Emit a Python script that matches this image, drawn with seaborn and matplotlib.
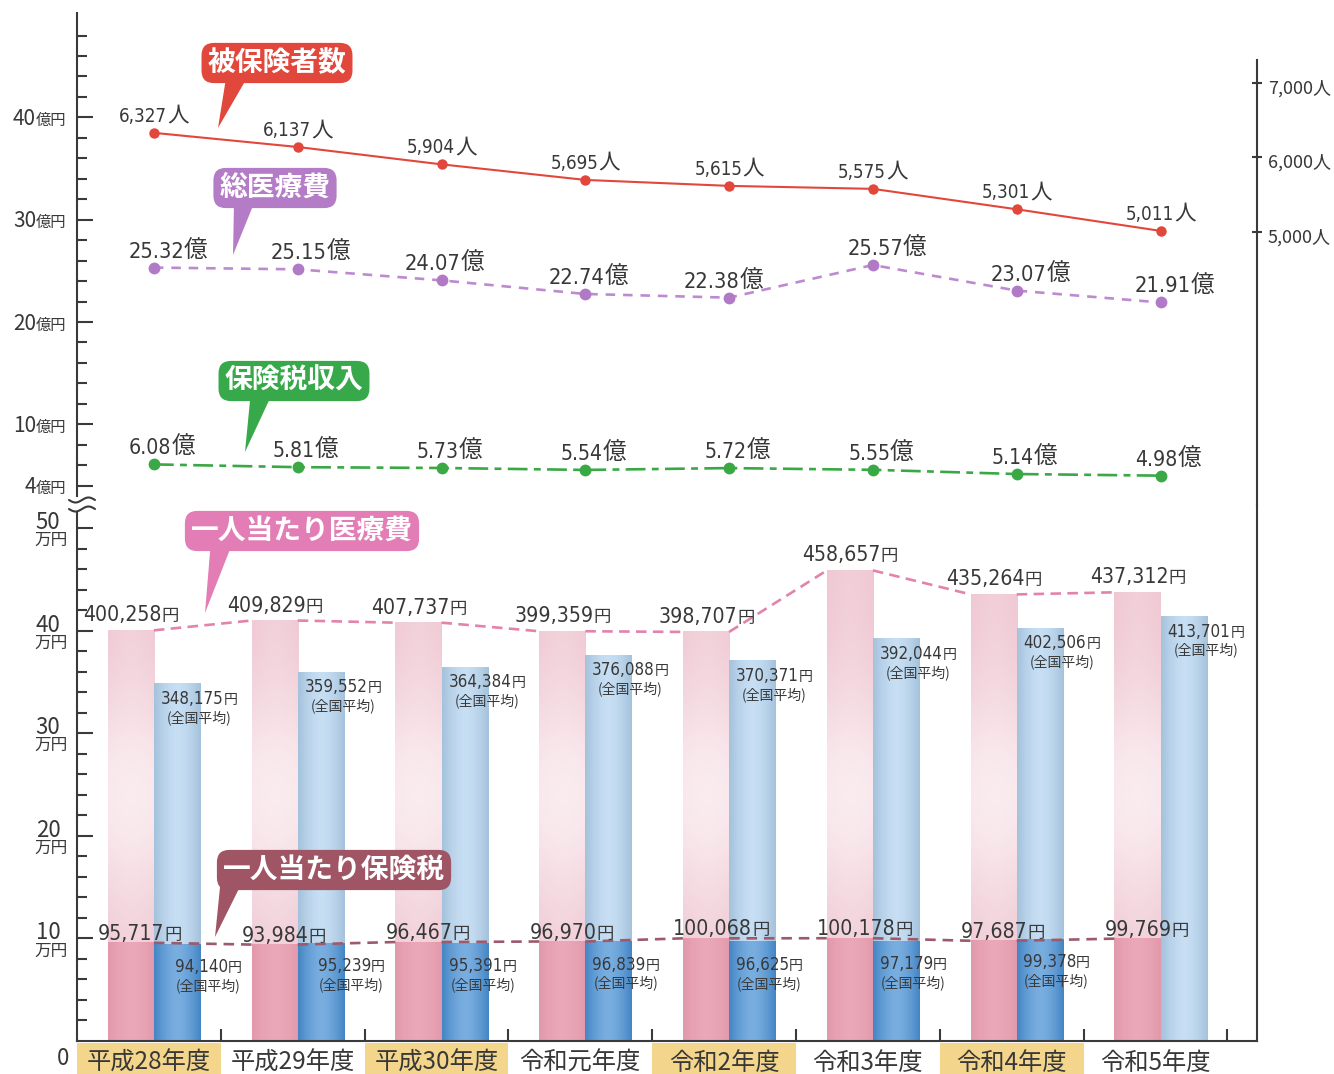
import os
import numpy as np
import pandas as pd
import matplotlib
matplotlib.use("Agg")
import matplotlib.pyplot as plt
import matplotlib.colors as mcolors
import seaborn as sns
from matplotlib import font_manager as fm
from matplotlib.font_manager import FontProperties
from matplotlib.patches import Rectangle
from matplotlib.lines import Line2D
from matplotlib.transforms import IdentityTransform

# ---------------- data ----------------
years = ['平成28年度', '平成29年度', '平成30年度', '令和元年度',
         '令和2年度', '令和3年度', '令和4年度', '令和5年度']
insured = [6327, 6137, 5904, 5695, 5615, 5575, 5301, 5011]          # 人
total_med = [25.32, 25.15, 24.07, 22.74, 22.38, 25.57, 23.07, 21.91]  # 億円
tax_rev = [6.08, 5.81, 5.73, 5.54, 5.72, 5.55, 5.14, 4.98]            # 億円
med_pp = [400258, 409829, 407737, 399359, 398707, 458657, 435264, 437312]
med_nat = [348175, 359552, 364384, 376088, 370371, 392044, 402506, 413701]
tax_pp = [95717, 93984, 96467, 96970, 100068, 100178, 97687, 99769]
tax_nat = [94140, 95239, 95391, 96839, 96625, 97179, 99378, np.nan]
highlight = [True, False, True, False, True, False, True, False]

# ---------------- style ----------------
sns.set_style("ticks")
JP = "Noto Sans CJK JP"
plt.rcParams["font.family"] = [JP, "DejaVu Sans"]

# look for a narrow font for the numerals
prefs = ["liberationsansnarrow-regular", "notosans-condensed.", "notosans-semicondensed.",
         "dejavusanscondensed.", "opensans_condensed-regular", "opensans-condensed",
         "robotocondensed-regular", "roboto_condensed-regular"]
files = [f.fname for f in fm.fontManager.ttflist]
NUMPATH = None
for p in prefs:
    hit = [f for f in files if os.path.basename(f).lower().startswith(p)]
    if hit:
        NUMPATH = hit[0]
        break

W, H = 1334, 1074
fig = plt.figure(figsize=(W / 100, H / 100), dpi=100)
renderer = fig.canvas.get_renderer()


def _numfp_raw(size):
    if NUMPATH:
        return FontProperties(fname=NUMPATH, size=size)
    return FontProperties(family=[JP], size=size)


_w = renderer.get_text_width_height_descent("0123456789", _numfp_raw(100), ismath=False)[0]
_target = 4.56 * 100 * 100 / 72
NS = float(np.clip(_target / _w, 0.87, 1.0))


def NUM(size):
    return _numfp_raw(size * NS)


def CJ(size, weight="normal"):
    return FontProperties(family=[JP, "DejaVu Sans"], size=size, weight=weight)


TXT = "#383838"
SPINE = "#3a3a3a"
PINK_L, PINK_D = "#efc7d2", "#e89eb1"
BLUE_L, BLUE_D = "#b3d3ef", "#4a91d5"
PINK_LINE, TAX_LINE = "#e283ab", "#9c5a6c"
RED, PURPLE, PURPLE_L, GREEN = "#e2473b", "#b07ac6", "#bd8ad0", "#3aa845"
YEL = "#f3d68c"

# ---------------- layout ----------------
X0, X1 = 77, 1257
YT, YB, YZ = 13, 505, 1041
GW = 143.8
C0 = X0 + GW / 2 + 5
SHIFT = 5 / GW
BW = 0.32
XL = ((X0 - C0) / GW, (X1 - C0) / GW)
Z0, PB = 526.6, 10.23
TOP_YL = ((Z0 - YB) / PB, (Z0 - YT) / PB)
R5, PR = 231.7, 0.0745
R_YL = (5000 - (YB - R5) / PR, 5000 + (R5 - YT) / PR)
PM = 10.26 / 10000
BOT_YL = (0, (YZ - YB) / PM)

fig.patch.set_facecolor("white")
ax_top = fig.add_axes([X0 / W, 1 - YB / H, (X1 - X0) / W, (YB - YT) / H])
ax_bot = fig.add_axes([X0 / W, 1 - YZ / H, (X1 - X0) / W, (YZ - YB) / H])
ax_r = ax_top.twinx()
for a in (ax_top, ax_bot, ax_r):
    a.set_facecolor("none")

# ---------------- bars ----------------
df_med = pd.DataFrame({"year": years * 2, "series": ["own"] * 8 + ["nat"] * 8,
                       "value": med_pp + med_nat})
df_tax = pd.DataFrame({"year": years * 2, "series": ["own"] * 8 + ["nat"] * 8,
                       "value": tax_pp + tax_nat})
sns.barplot(data=df_med, x="year", y="value", hue="series", order=years,
            hue_order=["own", "nat"], palette={"own": PINK_L, "nat": BLUE_L},
            width=2 * BW, errorbar=None, saturation=1, legend=False,
            linewidth=0, ax=ax_bot)
n_med = len(ax_bot.patches)
sns.barplot(data=df_tax, x="year", y="value", hue="series", order=years,
            hue_order=["own", "nat"], palette={"own": PINK_D, "nat": BLUE_D},
            width=2 * BW, errorbar=None, saturation=1, legend=False,
            linewidth=0, ax=ax_bot)


def shade(patch, layer):
    """paint a soft cylinder/gradient look over a seaborn bar"""
    x, y, w, h = patch.get_x(), patch.get_y(), patch.get_width(), patch.get_height()
    if not np.isfinite(h) or h <= 0:
        return
    base = np.array(mcolors.to_rgb(patch.get_facecolor()))
    is_blue = base[2] > base[0]
    nx, ny = 48, 160
    u = np.linspace(0, 1, nx)
    cyl = (1 - np.abs(2 * u - 1) ** 1.6)[None, :, None]
    yv = np.linspace(y, y + h, ny)[:, None, None]
    img = np.broadcast_to(base, (ny, nx, 3)).copy()
    if is_blue:
        img = img + (1 - img) * 0.26 * cyl - img * 0.08 * (1 - cyl)
    elif layer == 0:
        band = 0.6 * np.exp(-((yv - 240000) / 110000) ** 2)
        img = img + (1 - img) * band
        img = img + (1 - img) * 0.12 * cyl
    else:
        img = img + (1 - img) * 0.10 * cyl - img * 0.03 * (1 - cyl)
    ax_bot.imshow(np.clip(img, 0, 1), extent=(x, x + w, y, y + h), origin="lower",
                  aspect="auto", interpolation="bilinear", zorder=1.1 + 0.1 * layer)


for k, p in enumerate(list(ax_bot.patches)):
    shade(p, 0 if k < n_med else 1)


def segs(vals):
    rows = []
    for i in range(len(vals) - 1):
        rows.append((i, i, vals[i]))
        rows.append((i, i + 1 - BW, vals[i + 1]))
    return pd.DataFrame(rows, columns=["seg", "x", "y"])


sns.lineplot(data=segs(med_pp), x="x", y="y", units="seg", estimator=None,
             sort=False, color=PINK_LINE, lw=1.9, ls=(0, (4, 2.4)),
             ax=ax_bot, zorder=4)
sns.lineplot(data=segs(tax_pp), x="x", y="y", units="seg", estimator=None,
             sort=False, color=TAX_LINE, lw=1.9, ls=(0, (4, 2.6)),
             ax=ax_bot, zorder=4)

# ---------------- top lines ----------------
idx = np.arange(len(years))
sns.lineplot(x=idx, y=total_med, ax=ax_top, color=PURPLE_L, lw=1.9,
             ls=(0, (3.6, 3.0)), marker="o", markersize=8.5,
             markerfacecolor=PURPLE, markeredgewidth=0, zorder=4)
sns.lineplot(x=idx, y=tax_rev, ax=ax_top, color=GREEN, lw=1.9,
             ls=(0, (7.5, 2.4, 2.6, 2.4)), marker="o", markersize=8.5,
             markerfacecolor=GREEN, markeredgewidth=0, zorder=4)
sns.lineplot(x=idx, y=insured, ax=ax_r, color=RED, lw=1.5, marker="o",
             markersize=7.5, markerfacecolor=RED, markeredgewidth=0, zorder=4)

# ---------------- axes ----------------
for a in (ax_top, ax_r, ax_bot):
    a.set_xlim(XL)
    a.set_xlabel("")
    a.set_ylabel("")
ax_top.set_ylim(TOP_YL)
ax_r.set_ylim(R_YL)
ax_bot.set_ylim(BOT_YL)

for a in (ax_top, ax_r, ax_bot):
    for s in a.spines.values():
        s.set_color(SPINE)
        s.set_linewidth(1.5)
for s in ("top", "bottom", "right"):
    ax_top.spines[s].set_visible(False)
for s in ("top", "bottom", "left"):
    ax_r.spines[s].set_visible(False)
ax_bot.spines["top"].set_visible(False)
ax_top.spines["left"].set_bounds((Z0 - 496) / PB, TOP_YL[1])
ax_bot.spines["left"].set_bounds(0, (YZ - 513) / PM)
ax_r.spines["right"].set_bounds(R_YL[0], 5000 + (R5 - 60) / PR)

ax_top.set_yticks([4, 10, 20, 30, 40])
ax_top.set_yticks([v for v in range(6, 50, 2) if v not in (10, 20, 30, 40)], minor=True)
ax_top.tick_params(axis="y", which="major", left=True, direction="in", length=11.5,
                   width=1.5, color=SPINE, labelleft=False)
ax_top.tick_params(axis="y", which="minor", left=True, direction="in", length=7.2,
                   width=1.5, color=SPINE)
ax_top.tick_params(axis="x", bottom=False, labelbottom=False)
ax_r.set_yticks([5000, 6000, 7000])
ax_r.tick_params(axis="y", right=True, direction="inout", length=7, width=1.5,
                 color=SPINE, labelright=False)
ax_r.tick_params(axis="x", bottom=False, labelbottom=False)

ax_bot.set_yticks([100000 * k for k in range(1, 6)])
ax_bot.set_yticks([20000 * k for k in range(1, 26) if k % 5], minor=True)
ax_bot.tick_params(axis="y", which="major", left=True, right=False, direction="in",
                   length=11.5, width=1.5, color=SPINE, labelleft=False)
ax_bot.tick_params(axis="y", which="minor", left=True, right=False, direction="in",
                   length=7.2, width=1.5, color=SPINE)
ax_bot.set_xticks([k - 0.5 - SHIFT for k in range(1, 9)], labels=[""] * 8)
ax_bot.tick_params(axis="x", bottom=True, direction="in", length=8.6, width=1.5,
                   color=SPINE)

# ---------------- text helpers ----------------
def put(ax, xy, parts, dx, dy, ha="left", xycoords="data", z=6):
    ws = [renderer.get_text_width_height_descent(t, p, ismath=False)[0] for t, p in parts]
    total = sum(ws)
    x = dx - {"left": 0, "center": total / 2, "right": total}[ha]
    start = x
    for (t, p), w in zip(parts, ws):
        ax.annotate(t, xy, xycoords=xycoords, xytext=(x, dy),
                    textcoords="offset pixels", ha="left", va="baseline",
                    fontproperties=p, color=TXT, zorder=z)
        x += w
    return start, total


# axis labels (left, top part)
for v in [40, 30, 20, 10, 4]:
    ax_top.annotate(str(v), (0, v), xycoords=("axes fraction", "data"),
                    xytext=(-41, -7.5), textcoords="offset pixels", ha="right",
                    va="baseline", fontproperties=CJ(15), color=TXT)
    ax_top.annotate("億円", (0, v), xycoords=("axes fraction", "data"),
                    xytext=(-41, -7.5), textcoords="offset pixels", ha="left",
                    va="baseline", fontproperties=CJ(11), color=TXT)
# axis labels (left, bottom part)
for v in [50, 40, 30, 20, 10]:
    ax_bot.annotate(str(v), (0, v * 10000), xycoords=("axes fraction", "data"),
                    xytext=(-29, -1), textcoords="offset pixels", ha="center",
                    va="baseline", fontproperties=CJ(16), color=TXT)
    ax_bot.annotate("万円", (0, v * 10000), xycoords=("axes fraction", "data"),
                    xytext=(-26, -17), textcoords="offset pixels", ha="center",
                    va="baseline", fontproperties=CJ(12), color=TXT)
fig.text(63 / W, 1 - 1065 / H, "0", ha="center", va="baseline",
         fontproperties=CJ(16), color=TXT)
# right labels
for v in [7000, 6000, 5000]:
    ax_r.annotate(f"{v:,}人", (1, v), xycoords=("axes fraction", "data"),
                  xytext=(11, -10.5), textcoords="offset pixels", ha="left",
                  va="baseline", fontproperties=CJ(13), color=TXT)

# category labels with highlight
for i, (yr, hl) in enumerate(zip(years, highlight)):
    if hl:
        ax_bot.add_patch(Rectangle((i - 0.5 - SHIFT, -0.0616), 1, 0.0578,
                                   transform=ax_bot.get_xaxis_transform(),
                                   fc=YEL, ec="none", clip_on=False, zorder=0))
    ax_bot.annotate(yr, (i - SHIFT, 0), xycoords=("data", "axes fraction"),
                    xytext=(0, -29), textcoords="offset pixels", ha="center",
                    va="baseline", fontproperties=CJ(17.5), color=TXT)

# break marks
for yc in (500, 509):
    xs = np.linspace(69, 95, 40)
    ys = H - (yc + 2.5 * np.sin((xs - 69) / 26 * 2 * np.pi))
    fig.add_artist(Line2D(xs, ys, transform=IdentityTransform(), color=SPINE, lw=1.5))

# ---------------- data labels ----------------
for i, v in enumerate(insured):
    put(ax_r, (i, v), [(f"{v:,}", NUM(15.5)), ("人", CJ(15.5))], 0, 11, ha="center")
purple_dx = [14, 13, 3, 3, -6, 14, 14, 14]
for i, v in enumerate(total_med):
    put(ax_top, (i, v), [(f"{v:.2f}", NUM(18)), ("億", CJ(17))],
        purple_dx[i], 10, ha="center")
for i, v in enumerate(tax_rev):
    put(ax_top, (i, v), [(f"{v:.2f}", NUM(17.5)), ("億", CJ(17))],
        8, 10, ha="center")
for i, v in enumerate(med_pp):
    put(ax_bot, (i - BW, v), [(f"{v:,}", NUM(17.5)), ("円", CJ(12.5))], -24.5, 9)
for i, v in enumerate(tax_pp):
    put(ax_bot, (i - BW, v), [(f"{v:,}", NUM(17.5)), ("円", CJ(12.5))], -10, 3)


def nat_label(i, v, dx, dy):
    s, w = put(ax_bot, (i, v), [(f"{v:,}", NUM(14)), ("円", CJ(10))], dx, dy)
    ax_bot.annotate("(全国平均)", (i, v), xycoords="data", xytext=(s + w / 2, dy - 18),
                    textcoords="offset pixels", ha="center", va="baseline",
                    fontproperties=CJ(10), color=TXT, zorder=6)


for i, v in enumerate(med_nat):
    nat_label(i, v, 7, -20)
tax_dx = [21, 20, 8, 7, 7, 7, 6, 6]
for i, v in enumerate(tax_nat):
    if not np.isnan(v):
        nat_label(i, v, tax_dx[i], -28)

# ---------------- callouts ----------------
def callout(text, center, tip, color, relx, rely=0.2):
    ax_r.annotate(text, xy=(tip[0], H - tip[1]), xycoords="figure pixels",
                  xytext=(center[0], H - center[1]), textcoords="figure pixels",
                  ha="center", va="center", fontproperties=CJ(20, "bold"),
                  color="white",
                  bbox=dict(boxstyle="round,pad=0.22,rounding_size=0.45", fc=color, ec="none"),
                  arrowprops=dict(arrowstyle="wedge,tail_width=0.8,shrink_factor=0.5",
                                  fc=color, ec="none", patchA=None, shrinkA=0, shrinkB=0,
                                  relpos=(relx, rely)),
                  zorder=8, annotation_clip=False)


callout("被保険者数", (277, 63), (218, 128), RED, 0.22)
callout("総医療費", (275, 188), (233, 255), "#b47cc6", 0.23)
callout("保険税収入", (294, 381), (245, 452), "#38a94b", 0.27)
callout("一人当たり医療費", (302, 531), (205, 613), "#e27db5", 0.14)
callout("一人当たり保険税", (334, 870), (215, 937), "#a05565", 0.04)

fig.savefig("out.png", dpi=100, facecolor="white")
